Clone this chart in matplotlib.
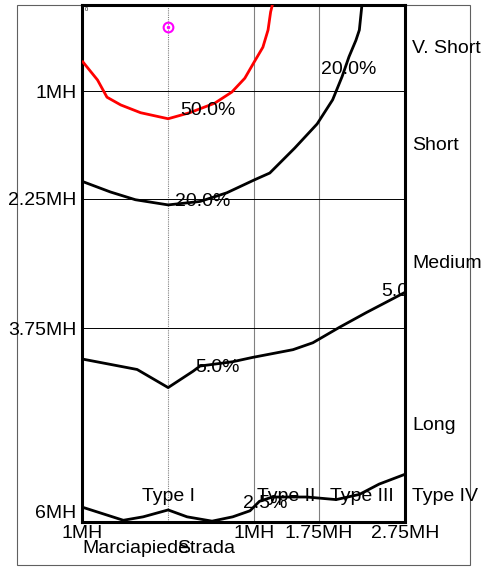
import matplotlib
matplotlib.use("Agg")
import matplotlib.pyplot as plt
from matplotlib.patches import Rectangle

plt.rcParams["font.family"] = ["Liberation Sans", "DejaVu Sans"]
plt.rcParams["font.size"] = 14

# ---------------------------------------------------------------------------
# Data (x: distance across sidewalk/road in MH, y: distance along in MH)
# ---------------------------------------------------------------------------
c50_x = [-0.99, -0.82, -0.71, -0.55, -0.32, 0.0, 0.25, 0.54, 0.74, 0.89, 1.0, 1.10, 1.16, 1.19, 1.21]
c50_y = [0.66, 0.87, 1.07, 1.16, 1.25, 1.32, 1.25, 1.14, 1.01, 0.85, 0.66, 0.49, 0.29, 0.08, 0.0]

c20_x = [-0.99, -0.67, -0.38, 0.0, 0.37, 0.68, 1.0, 1.18, 1.47, 1.73, 1.91, 2.02, 2.10, 2.18, 2.22, 2.25]
c20_y = [2.05, 2.17, 2.26, 2.32, 2.28, 2.18, 2.03, 1.95, 1.66, 1.38, 1.10, 0.83, 0.60, 0.41, 0.29, 0.0]

c5_x = [-0.99, -0.36, 0.0, 0.29, 0.37, 0.75, 0.98, 1.45, 1.68, 1.99, 2.30, 2.53, 2.74]
c5_y = [4.11, 4.23, 4.44, 4.25, 4.19, 4.14, 4.09, 4.0, 3.92, 3.74, 3.57, 3.45, 3.34]

c25_x = [-0.99, -0.52, -0.29, 0.0, 0.22, 0.51, 0.75, 0.95, 1.06, 1.21, 1.61, 1.95, 2.22, 2.45, 2.74]
c25_y = [5.83, 5.98, 5.94, 5.86, 5.94, 5.99, 5.94, 5.87, 5.76, 5.71, 5.71, 5.74, 5.68, 5.56, 5.45]

# contour labels: (text, x, y)  -- left edge of the text
contour_labels = [
    ("50.0%", 0.14, 1.22),
    ("20.0%", 0.08, 2.28),
    ("20.0%", 1.77, 0.75),
    ("5.0%", 0.31, 4.21),
    ("5.0%", 2.47, 3.33),
    ("2.5%", 0.87, 5.79),
]

source_x, source_y = 0.0, 0.25

x_ticks = [-1, 1, 1.75, 2.75]
x_tick_labels = ["1MH", "1MH", "1.75MH", "2.75MH"]
y_ticks = [1, 2.25, 3.75, 6]
y_tick_labels = ["1MH", "2.25MH", "3.75MH", "6MH"]

dist_labels = ["V. Short", "Short", "Medium", "Long"]
dist_pos = [0.5, 1.625, 3.0, 4.875]
type_labels = ["Type I", "Type II", "Type III"]
type_pos = [0.0, 1.375, 2.25]

# ---------------------------------------------------------------------------
fig = plt.figure(figsize=(4.93, 5.69), dpi=100)
ax = fig.add_axes([82 / 493, 47 / 569, 323 / 493, 517 / 569])
ax.set_xlim(-1, 2.75)
ax.set_ylim(6, 0)

# grid
for gx in [1, 1.75]:
    ax.axvline(gx, color="#808080", lw=0.8, zorder=1)
ax.axvline(0, color="#808080", lw=0.8, ls=(0, (1, 1)), zorder=1)
for gy in [1, 2.25, 3.75]:
    ax.axhline(gy, color="black", lw=0.7, zorder=1)

# contours
ax.plot(c50_x, c50_y, color="red", lw=2.0, zorder=3)
for cx, cy in [(c20_x, c20_y), (c5_x, c5_y), (c25_x, c25_y)]:
    ax.plot(cx, cy, color="black", lw=2.0, zorder=3)

for txt, tx, ty in contour_labels:
    ax.text(tx, ty, txt, ha="left", va="center", zorder=4, clip_on=True)

# source marker
ax.plot(source_x, source_y, "o", ms=7, mfc="none", mec="#ff00ff", mew=1.5, zorder=5)
ax.plot(source_x, source_y, "o", ms=1.5, color="#ff00ff", zorder=5)
ax.text(-0.97, 0.02, "0", fontsize=4, va="top", ha="left")

# frame
for s in ax.spines.values():
    s.set_linewidth(2.2)
    s.set_color("black")

ax.set_xticks(x_ticks)
ax.set_xticklabels(x_tick_labels)
ax.set_yticks(y_ticks)
ax.set_yticklabels(y_tick_labels)
ax.tick_params(length=0, pad=2)
ax.tick_params(axis="y", pad=4)
ax.get_yticklabels()[-1].set_va("bottom")

# outer frame
ax.add_patch(Rectangle((-1.75, 0), 5.25, 6.5, fill=False, ec="#606060",
                       lw=0.8, clip_on=False, zorder=0))

# side labels
for lab, yp in zip(dist_labels, dist_pos):
    ax.text(2.83, yp, lab, ha="left", va="center", clip_on=False)
for lab, xp in zip(type_labels, type_pos):
    ax.text(xp, 5.7, lab, ha="center", va="center", clip_on=False)
ax.text(2.83, 5.7, "Type IV", ha="left", va="center", clip_on=False)

ax.text(-0.99, 6.31, "Marciapiede", ha="left", va="center", clip_on=False)
ax.text(0.10, 6.31, "Strada", ha="left", va="center", clip_on=False)

fig.savefig("out.png", dpi=100)
